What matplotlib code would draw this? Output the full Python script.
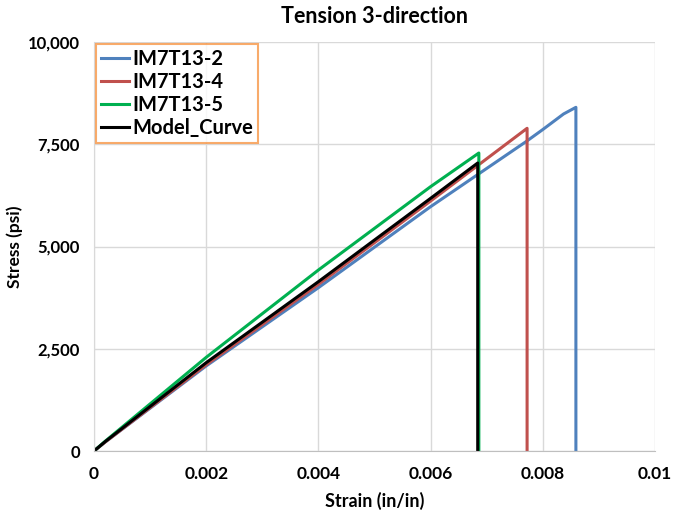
import numpy as np
import matplotlib.pyplot as plt

# strain (in/in) and stress (psi)
im2_strain = [0, 0.0002, 0.002, 0.004, 0.006, 0.0077, 0.008, 0.00837, 0.00859, 0.00859]
im2_stress = [0, 220, 2080, 3993, 5974, 7563, 7860, 8240, 8403, 0]

im4_strain = [0, 0.0002, 0.002, 0.004, 0.006, 0.00772, 0.00772]
im4_stress = [0, 220, 2110, 4075, 6112, 7890, 0]

im5_strain = [0, 0.0002, 0.002, 0.004, 0.006, 0.00686, 0.00686]
im5_stress = [0, 240, 2290, 4425, 6463, 7286, 0]

model_strain = [0, 0.0002, 0.002, 0.004, 0.006, 0.00684, 0.00684]
model_stress = [0, 230, 2160, 4140, 6178, 7042, 0]

series = [
    ("IM7T13-2", im2_strain, im2_stress, "#4F81BD"),
    ("IM7T13-4", im4_strain, im4_stress, "#C0504D"),
    ("IM7T13-5", im5_strain, im5_stress, "#00B050"),
    ("Model_Curve", model_strain, model_stress, "black"),
]

plt.rcParams["font.family"] = ["Lato", "DejaVu Sans"]
plt.rcParams["font.weight"] = "bold"

fig = plt.figure(figsize=(6.75, 5.19), dpi=100)
ax = fig.add_axes([94 / 675, 1 - 451 / 519, 561 / 675, 409 / 519])

for name, x, y, c in series:
    ax.plot(x, y, color=c, lw=2.2, label=name)

ax.set_xlim(0, 0.01)
ax.set_ylim(0, 10000)
ax.set_xticks([0, 0.002, 0.004, 0.006, 0.008, 0.01])
ax.set_xticklabels(["0", "0.002", "0.004", "0.006", "0.008", "0.01"])
ax.set_yticks([0, 2500, 5000, 7500, 10000])
ax.set_yticklabels(["0", "2,500", "5,000", "7,500", "10,000"])
ax.tick_params(axis="y", length=0, labelsize=12, pad=10)
ax.tick_params(axis="x", length=0, labelsize=12.5, pad=11)
for lab in ax.get_xticklabels() + ax.get_yticklabels():
    lab.set_fontweight("bold")

ax.grid(True, color="#D9D9D9", lw=1)
ax.set_axisbelow(True)
for s in ["top", "right"]:
    ax.spines[s].set_visible(False)
ax.spines["left"].set_color("#D9D9D9")
ax.spines["bottom"].set_color("#BFBFBF")

ax.set_xlabel("Strain (in/in)", fontsize=13, fontweight="bold", labelpad=7)
ax.set_ylabel("Stress (psi)", fontsize=12.5, fontweight="bold", labelpad=4)
ax.set_title("Tension 3-direction", fontsize=15.5, fontweight="bold", pad=14)

leg = ax.legend(loc="upper left", bbox_to_anchor=(0.0, 1.0), fontsize=14.5,
                frameon=True, fancybox=False, handlelength=1.4,
                handletextpad=0.15, labelspacing=0.15, borderpad=0.25,
                borderaxespad=0.1)
leg.get_frame().set_edgecolor("#F79646")
leg.get_frame().set_linewidth(1.5)
for t in leg.get_texts():
    t.set_fontweight("bold")

fig.savefig("out.png", dpi=100)
